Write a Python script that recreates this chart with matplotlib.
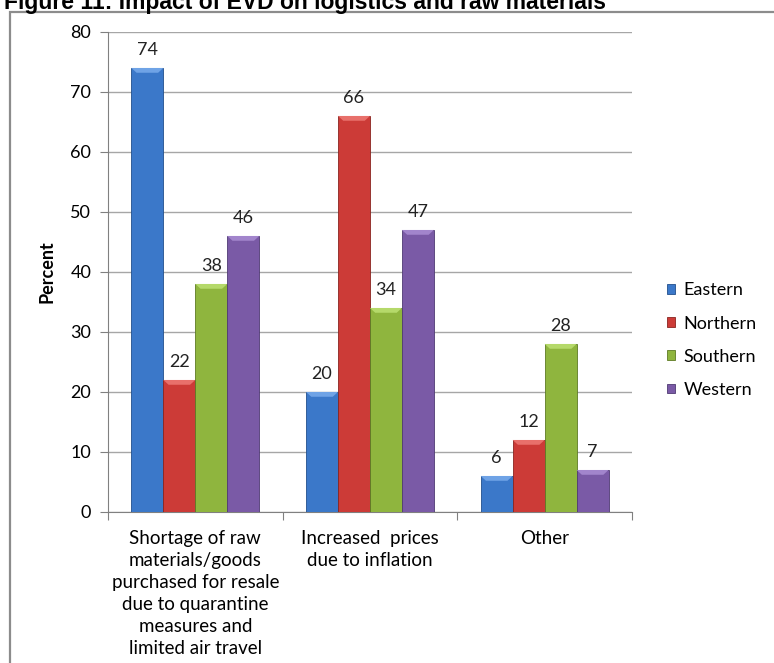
import numpy as np
import matplotlib.pyplot as plt
from matplotlib.patches import Rectangle, Polygon

plt.rcParams['font.family'] = ['Lato', 'DejaVu Sans']

# survey results by region (percent of businesses)
categories = ["Shortage of raw\nmaterials/goods\npurchased for resale\ndue to quarantine\nmeasures and\nlimited air travel",
              "Increased  prices\ndue to inflation",
              "Other"]
regions = ["Eastern", "Northern", "Southern", "Western"]
eastern = [74, 20, 6]
northern = [22, 66, 12]
southern = [38, 34, 28]
western = [46, 47, 7]
yticks = [0, 10, 20, 30, 40, 50, 60, 70, 80]

series = [eastern, northern, southern, western]
colors = ["#3b78c9", "#cc3b37", "#8fb53e", "#7a5aa6"]
tops = ["#6fa3e6", "#e8706b", "#b5d96a", "#a285cc"]
edges = ["#224f8c", "#8a2420", "#5d7a24", "#4f3a73"]
fs = 13

fig = plt.figure(figsize=(7.74, 6.63), dpi=100)
ax = fig.add_axes([0.1395, 0.2278, 0.677, 0.724])

x = np.arange(len(categories))
w = 0.183
for i, (vals, c, tc, ec) in enumerate(zip(series, colors, tops, edges)):
    pos = x + (i - 1.5) * w
    ax.bar(pos, vals, width=w, color=c, edgecolor=ec, linewidth=0.6,
           label=regions[i], zorder=3)
    for p, v in zip(pos, vals):
        # light bevel on the top of each bar
        bev = 0.8
        ax.add_patch(Polygon([[p - w / 2, v], [p + w / 2, v],
                              [p + w / 2 - 0.03, v - bev], [p - w / 2 + 0.03, v - bev]],
                             closed=True, facecolor=tc, edgecolor='none', zorder=4))
        ax.text(p, v + 1.6, str(v), ha='center', va='bottom', fontsize=fs,
                color='#222222', zorder=5)

ax.set_xlim(-0.5, 2.5)
ax.set_ylim(0, 80)
ax.set_yticks(yticks)
ax.set_yticklabels([str(t) for t in yticks], fontsize=fs)
ax.yaxis.grid(True, color='#a6a6a6', linewidth=1.0, zorder=0)
ax.set_axisbelow(True)

ax.set_xticks([-0.5, 0.5, 1.5, 2.5])
ax.set_xticklabels([])
ax.set_xticks(x, minor=True)
ax.set_xticklabels(categories, minor=True, fontsize=13.5, linespacing=1.35)
ax.tick_params(axis='x', which='minor', length=0, pad=13)
ax.tick_params(axis='x', which='major', length=6, color='#808080')
ax.tick_params(axis='y', length=6, color='#808080', pad=6)

for s in ['top', 'right']:
    ax.spines[s].set_visible(False)
ax.spines['left'].set_color('#808080')
ax.spines['bottom'].set_color('#808080')

ax.set_ylabel("Percent", fontsize=fs, fontweight='bold', labelpad=11)

fig.legend(loc='center left', bbox_to_anchor=(0.841, 0.487), frameon=False,
           fontsize=fs, handlelength=0.45, handleheight=0.45,
           handletextpad=0.45, labelspacing=0.95)

# frame around the chart area
fig.add_artist(Rectangle((10 / 774, -0.1), 1.2, 1.1 - 12 / 663, transform=fig.transFigure,
                         fill=False, edgecolor='#8c8c8c', linewidth=1.6))
fig.text(0.005, 1 - 9 / 663, "Figure 11: Impact of EVD on logistics and raw materials",
         fontsize=16.5, fontweight='bold', family='Liberation Sans', va='baseline', ha='left')

fig.savefig("out.png", dpi=100)
